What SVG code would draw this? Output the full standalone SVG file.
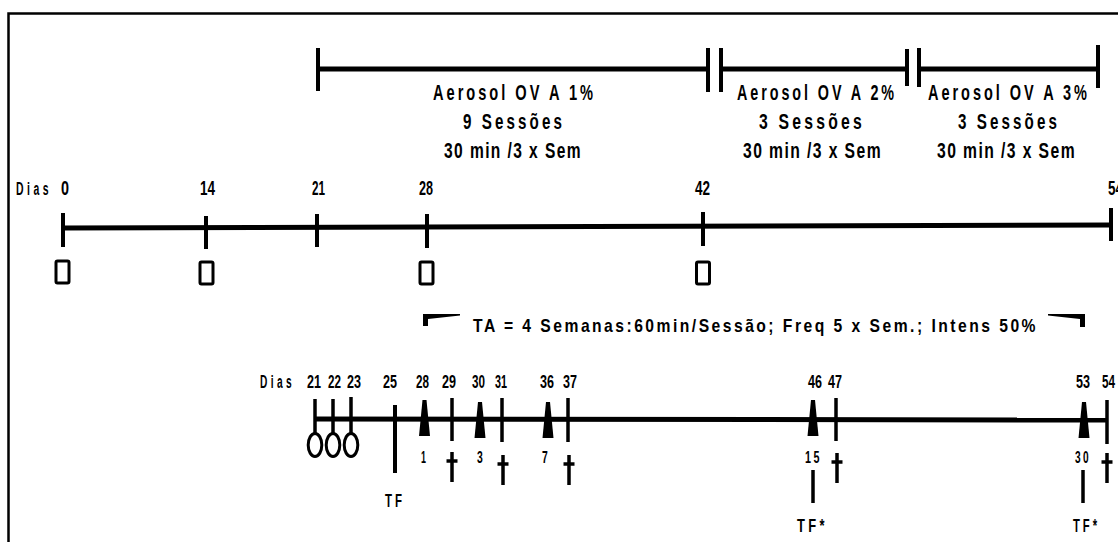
<svg xmlns="http://www.w3.org/2000/svg" width="1118" height="542" viewBox="0 0 1118 542">
<style>
  text { font-family: "Liberation Sans", Arial, sans-serif; font-weight: bold; fill: #000; }
  .big { font-size: 22px; letter-spacing: 4.5px; }
  .num { font-size: 21px; }
  .lab { font-size: 19px; letter-spacing: 3px; }
  .sm { font-size: 17px; letter-spacing: 2px; }
  .ln { stroke: #000; fill: none; stroke-linecap: butt; }
  .bar { stroke-width: 5; }
  .tk { stroke-width: 4; }
  .tk2 { stroke-width: 3.5; }
  .sq { fill: #fff; stroke: #000; stroke-width: 3; }
  .ov { fill: #fff; stroke: #000; stroke-width: 3; }
</style>
<defs>
  <polygon id="tri" points="-2,0 2,0 5.5,36 -5.5,36" fill="#000"/>
  <g id="cross">
    <line x1="0" y1="0" x2="0" y2="30" stroke="#000" stroke-width="3.5"/>
    <line x1="-5.5" y1="9" x2="5.5" y2="9" stroke="#000" stroke-width="3.5"/>
  </g>
  <rect id="sqr" x="-6.5" y="0" width="13" height="22" rx="1.5" class="sq"/>
</defs>

<g id="frame">
  <path d="M8.5,542 V13.5 H1118" fill="none" stroke="#000" stroke-width="2.5"/>
</g>

<g id="aerosol-bars">
  <line class="ln bar" x1="318" y1="69" x2="708" y2="69"/>
  <line class="ln bar" x1="721" y1="69" x2="907" y2="69"/>
  <line class="ln bar" x1="919" y1="69" x2="1098" y2="69"/>
  <line class="ln tk" x1="318" y1="48" x2="318" y2="91"/>
  <line class="ln tk" x1="708" y1="48" x2="708" y2="92"/>
  <line class="ln tk" x1="721" y1="48" x2="721" y2="92"/>
  <line class="ln tk" x1="907" y1="49" x2="907" y2="86"/>
  <line class="ln tk" x1="919" y1="48" x2="919" y2="87"/>
  <line class="ln tk" x1="1098" y1="45" x2="1098" y2="88"/>
</g>

<g id="aerosol-1">
  <text class="big" x="433" y="100" textLength="163" lengthAdjust="spacingAndGlyphs">Aerosol OV A 1%</text>
  <text class="big" x="463" y="129" textLength="102" lengthAdjust="spacingAndGlyphs">9 Sessões</text>
  <text class="big" x="444" y="158" textLength="138" lengthAdjust="spacingAndGlyphs" style="letter-spacing:2px">30 min /3 x Sem</text>
</g>
<g id="aerosol-2">
  <text class="big" x="737" y="100" textLength="160" lengthAdjust="spacingAndGlyphs">Aerosol OV A 2%</text>
  <text class="big" x="759" y="129" textLength="106" lengthAdjust="spacingAndGlyphs">3 Sessões</text>
  <text class="big" x="743" y="158" textLength="139" lengthAdjust="spacingAndGlyphs" style="letter-spacing:2px">30 min /3 x Sem</text>
</g>
<g id="aerosol-3">
  <text class="big" x="928" y="100" textLength="162" lengthAdjust="spacingAndGlyphs">Aerosol OV A 3%</text>
  <text class="big" x="958" y="129" textLength="102" lengthAdjust="spacingAndGlyphs">3 Sessões</text>
  <text class="big" x="937" y="158" textLength="139" lengthAdjust="spacingAndGlyphs" style="letter-spacing:2px">30 min /3 x Sem</text>
</g>

<g id="timeline-top">
  <text class="lab" x="16" y="195" textLength="36" lengthAdjust="spacingAndGlyphs" style="font-size:18px;letter-spacing:6px">Dias</text>
  <text class="num" x="61" y="195" textLength="8" lengthAdjust="spacingAndGlyphs">0</text>
  <text class="num" x="200" y="195" textLength="15" lengthAdjust="spacingAndGlyphs">14</text>
  <text class="num" x="312" y="195" textLength="13" lengthAdjust="spacingAndGlyphs">21</text>
  <text class="num" x="419" y="195" textLength="14" lengthAdjust="spacingAndGlyphs">28</text>
  <text class="num" x="695" y="195" textLength="15" lengthAdjust="spacingAndGlyphs">42</text>
  <text class="num" x="1108" y="195" textLength="15" lengthAdjust="spacingAndGlyphs">54</text>
  <line class="ln bar" x1="63" y1="228" x2="1111" y2="225"/>
  <line class="ln tk" x1="63" y1="213" x2="63" y2="247"/>
  <line class="ln tk" x1="206" y1="216" x2="206" y2="249"/>
  <line class="ln tk" x1="317" y1="214" x2="317" y2="247"/>
  <line class="ln tk" x1="427" y1="214" x2="427" y2="248"/>
  <line class="ln tk" x1="703" y1="212" x2="703" y2="246"/>
  <line class="ln tk" x1="1111" y1="208" x2="1111" y2="241"/>
</g>

<g id="squares">
  <use href="#sqr" x="62.5" y="261"/>
  <use href="#sqr" x="206.5" y="262"/>
  <use href="#sqr" x="426.5" y="262"/>
  <use href="#sqr" x="703" y="262"/>
</g>

<g id="training">
  <path d="M423,314 L460,314 L460,315.5 L428,319 L428,326 L423,326 Z" fill="#000"/>
  <path d="M1085,314 L1048,314 L1048,315.5 L1080,319 L1080,327 L1085,327 Z" fill="#000"/>
  <text class="lab" x="473" y="332" textLength="565" lengthAdjust="spacingAndGlyphs">TA = 4 Semanas:60min/Sessão; Freq 5 x Sem.; Intens 50%</text>
</g>

<g id="timeline-bottom">
  <text class="lab" x="260" y="388" textLength="35" lengthAdjust="spacingAndGlyphs" style="font-size:18px;letter-spacing:6px">Dias</text>
  <g class="num" style="font-size:19px">
    <text x="307" y="388" textLength="14" lengthAdjust="spacingAndGlyphs">21</text>
    <text x="328" y="388" textLength="13" lengthAdjust="spacingAndGlyphs">22</text>
    <text x="347" y="388" textLength="14" lengthAdjust="spacingAndGlyphs">23</text>
    <text x="383" y="388" textLength="14" lengthAdjust="spacingAndGlyphs">25</text>
    <text x="416" y="388" textLength="13" lengthAdjust="spacingAndGlyphs">28</text>
    <text x="442" y="388" textLength="14" lengthAdjust="spacingAndGlyphs">29</text>
    <text x="472" y="388" textLength="13" lengthAdjust="spacingAndGlyphs">30</text>
    <text x="495" y="388" textLength="12" lengthAdjust="spacingAndGlyphs">31</text>
    <text x="540" y="388" textLength="14" lengthAdjust="spacingAndGlyphs">36</text>
    <text x="563" y="388" textLength="14" lengthAdjust="spacingAndGlyphs">37</text>
    <text x="808" y="388" textLength="14" lengthAdjust="spacingAndGlyphs">46</text>
    <text x="828" y="388" textLength="14" lengthAdjust="spacingAndGlyphs">47</text>
    <text x="1076" y="388" textLength="14" lengthAdjust="spacingAndGlyphs">53</text>
    <text x="1102" y="388" textLength="13" lengthAdjust="spacingAndGlyphs">54</text>
  </g>
  <line class="ln bar" x1="315" y1="419" x2="1107" y2="420"/>
  <!-- sensitisation ticks with ovals -->
  <line class="ln tk2" x1="315" y1="399" x2="315" y2="434"/>
  <line class="ln tk2" x1="333" y1="399" x2="333" y2="434"/>
  <line class="ln tk2" x1="351" y1="397" x2="351" y2="434"/>
  <ellipse class="ov" cx="315" cy="445" rx="6.8" ry="11.5"/>
  <ellipse class="ov" cx="333" cy="445" rx="6.8" ry="11.5"/>
  <ellipse class="ov" cx="351" cy="445" rx="6.8" ry="11.5"/>
  <!-- TF -->
  <line class="ln" stroke-width="4" x1="395" y1="405" x2="395" y2="473"/>
  <text class="lab" x="385" y="507" textLength="20" lengthAdjust="spacingAndGlyphs" style="letter-spacing:5px">TF</text>
  <!-- training markers -->
  <use href="#tri" x="424.5" y="400"/>
  <use href="#tri" x="480" y="402"/>
  <use href="#tri" x="548" y="402"/>
  <use href="#tri" x="813" y="400"/>
  <use href="#tri" x="1084" y="402"/>
  <text class="sm" x="421" y="463" textLength="6" lengthAdjust="spacingAndGlyphs">1</text>
  <text class="sm" x="477" y="463" textLength="7" lengthAdjust="spacingAndGlyphs">3</text>
  <text class="sm" x="542" y="463" textLength="7" lengthAdjust="spacingAndGlyphs">7</text>
  <text class="sm" x="805" y="463" textLength="17" lengthAdjust="spacingAndGlyphs" style="letter-spacing:4px">15</text>
  <text class="sm" x="1075" y="463" textLength="16" lengthAdjust="spacingAndGlyphs" style="letter-spacing:4px">30</text>
  <!-- sacrifice ticks -->
  <line class="ln tk2" x1="452" y1="398" x2="452" y2="441"/>
  <line class="ln tk2" x1="502" y1="398" x2="502" y2="442"/>
  <line class="ln tk2" x1="568" y1="398" x2="568" y2="442"/>
  <line class="ln tk2" x1="836" y1="398" x2="836" y2="441"/>
  <line class="ln tk2" x1="1107" y1="400" x2="1107" y2="444"/>
  <use href="#cross" x="452" y="452"/>
  <use href="#cross" x="503" y="455"/>
  <use href="#cross" x="569" y="455"/>
  <use href="#cross" x="837" y="453"/>
  <use href="#cross" x="1107" y="453"/>
  <!-- TF* -->
  <line class="ln tk2" x1="813" y1="470" x2="813" y2="503"/>
  <line class="ln tk2" x1="1083" y1="470" x2="1083" y2="503"/>
  <text class="lab" x="797" y="532" textLength="31" lengthAdjust="spacingAndGlyphs" style="letter-spacing:5px">TF*</text>
  <text class="lab" x="1073" y="532" textLength="27" lengthAdjust="spacingAndGlyphs" style="letter-spacing:5px">TF*</text>
</g>
</svg>
